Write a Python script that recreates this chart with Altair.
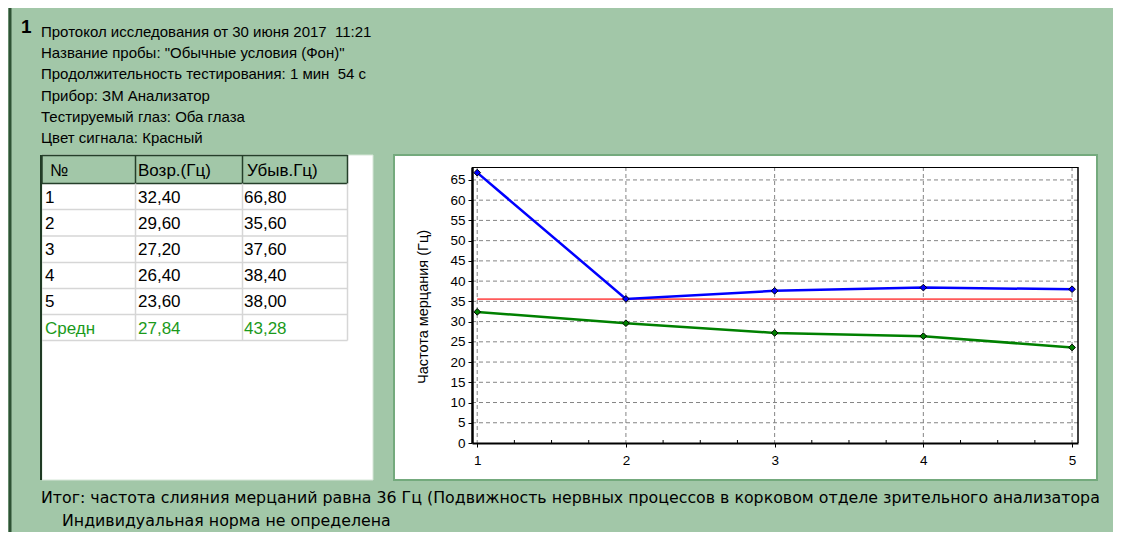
import altair as alt
import pandas as pd

# ---------------- data ----------------
trials = [1, 2, 3, 4, 5]
vozr = [32.40, 29.60, 27.20, 26.40, 23.60]      # Возр.(Гц)
ubyv = [66.80, 35.60, 37.60, 38.40, 38.00]      # Убыв.Гц)
vozr_avg = "27,84"
ubyv_avg = "43,28"
threshold = 35.56                                # частота слияния мерцаний
y_ticks = [0, 5, 10, 15, 20, 25, 30, 35, 40, 45, 50, 55, 60, 65]
x_ticks = [1, 2, 3, 4, 5]
table_headers = ["№", "Возр.(Гц)", "Убыв.Гц)"]
avg_label = "Средн"
header_number = "1"
header_lines = [
    "Протокол исследования от 30 июня 2017\u00a0 11:21",
    "Название пробы: \"Обычные условия (Фон)\"",
    "Продолжительность тестирования: 1 мин\u00a0 54 с",
    "Прибор: ЗМ Анализатор",
    "Тестируемый глаз: Оба глаза",
    "Цвет сигнала: Красный",
]
footer_lines = [
    "Итог: частота слияния мерцаний равна 36 Гц (Подвижность нервных процессов в корковом отделе зрительного анализатора",
    "Индивидуальная норма не определена",
]
y_title = "Частота мерцания (Гц)"

# ---------------- styles ----------------
FONT = "Liberation Sans"
WIDE_FONT = "DejaVu Sans"
BG = "#a2c7a8"
DARK = "#2e5234"
GRID = "#858585"

# page position of plot origin
OX, OY = 472, 167
PW, PH = 606, 276


def px(x):
    return x - OX


def py(y):
    return y - OY


one = pd.DataFrame({"k": [0]})


def rect(x1, y1, x2, y2, fill, stroke=None, sw=0):
    kw = dict(fill=fill)
    if stroke:
        kw["stroke"] = stroke
        kw["strokeWidth"] = sw
    return alt.Chart(one).mark_rect(**kw).encode(
        x=alt.value(px(x1)), x2=alt.value(px(x2)),
        y=alt.value(py(y1)), y2=alt.value(py(y2)))


def rule(x1, y1, x2, y2, color, w=1.0):
    return alt.Chart(one).mark_rule(color=color, strokeWidth=w).encode(
        x=alt.value(px(x1)), x2=alt.value(px(x2)),
        y=alt.value(py(y1)), y2=alt.value(py(y2)))


def text(s, x, y, size=14, color="black", align="left", weight="normal",
         angle=0, lh=None, baseline="alphabetic", font=FONT):
    kw = dict(fontSize=size, color=color, align=align, fontWeight=weight,
              font=font, baseline=baseline, lineBreak="\n")
    if angle:
        kw["angle"] = angle
    if lh:
        kw["lineHeight"] = lh
    return alt.Chart(one).mark_text(**kw).encode(
        x=alt.value(px(x)), y=alt.value(py(y)), text=alt.value(s))


# shared axes (identical in every layer so they merge into one)
AX = alt.Axis(values=x_ticks, format="d", grid=False, title=None, domainColor="black",
              domainWidth=2, tickColor="black", tickSize=4, labelPadding=6,
              labelFont=FONT, labelFontSize=13.5, labelColor="black", zindex=1)
AY = alt.Axis(values=y_ticks, grid=False, title=None, domainColor="black",
              domainWidth=2.5, tickColor="black", tickSize=4, labelPadding=3,
              labelFont=FONT, labelFontSize=13.5, labelColor="black", zindex=1)

layers = []

# left dark border of the window
layers.append(rule(10, 8, 10, 540, DARK, 3))

# header text
layers.append(text(header_number, 21, 33, size=19, weight="bold"))
layers.append(text("\n".join(header_lines), 41, 37, size=15, lh=21.2))

# ---------------- table panel ----------------
TX0, TX1, TY0, TY1 = 42, 373, 155, 480
layers.append(rect(TX0, TY0, TX1, TY1, "white", "#d5e6d7", 1))
layers.append(rule(41, TY0, 41, TY1, "#1f3a24", 2))
col_x = [42, 135.5, 242.5, 347.5]
row_y = [183.5, 209.5, 236, 262.5, 288.5, 314.5, 340.5]
# header row
layers.append(rect(col_x[0], TY0, col_x[-1], row_y[0], BG))
for cx in col_x:
    layers.append(rule(cx, TY0, cx, row_y[0], "#253f2a", 1.5))
layers.append(rule(col_x[0], TY0 + 0.5, col_x[-1], TY0 + 0.5, "#253f2a", 1.5))
layers.append(rule(col_x[0], row_y[0], col_x[-1], row_y[0], "#253f2a", 1.5))
# body grid
for ry in row_y[1:]:
    layers.append(rule(col_x[0], ry, col_x[-1], ry, "#d6d6d6", 1.5))
for cx in col_x[1:]:
    layers.append(rule(cx, row_y[0], cx, row_y[-1], "#d6d6d6", 1.5))
TFS = 17
text_x = [45, 138, 244]
header_tx = [50, 138, 247]
for s, tx in zip(table_headers, header_tx):
    layers.append(text(s, tx, 175.5, size=TFS))
fmt = lambda v: f"{v:.2f}".replace(".", ",")
row_h = 26.2
first_base = (row_y[0] + row_y[1]) / 2 + 6
layers.append(text("\n".join(str(t) for t in trials), text_x[0], first_base, size=TFS, lh=row_h))
layers.append(text("\n".join(fmt(v) for v in vozr), text_x[1], first_base, size=TFS, lh=row_h))
layers.append(text("\n".join(fmt(v) for v in ubyv), text_x[2], first_base, size=TFS, lh=row_h))
avg_base = first_base + row_h * len(trials)
green_txt = "#1b9a1b"
layers.append(text(avg_label, text_x[0], avg_base, size=TFS, color=green_txt))
layers.append(text(vozr_avg, text_x[1], avg_base, size=TFS, color=green_txt))
layers.append(text(ubyv_avg, text_x[2], avg_base, size=TFS, color=green_txt))

# ---------------- chart panel ----------------
layers.append(rect(394, 155, 1097, 480, "white", "#74aa7d", 2))
layers.append(text(y_title, 424, 307, size=14.5, angle=270, align="center", baseline="middle"))

xs = alt.Scale(domain=[0.965, 5.04], nice=False, zero=False)
ys = alt.Scale(domain=[0, 68.2], nice=False, zero=True)

hg = pd.DataFrame({"v": y_ticks[1:]})
layers.append(alt.Chart(hg).mark_rule(color=GRID, strokeDash=[4, 3], strokeWidth=1).encode(
    y=alt.Y("v:Q", scale=ys, axis=AY), x=alt.value(0), x2=alt.value(PW)))
vg = pd.DataFrame({"v": x_ticks})
layers.append(alt.Chart(vg).mark_rule(color=GRID, strokeDash=[4, 3], strokeWidth=1).encode(
    x=alt.X("v:Q", scale=xs, axis=AX), y=alt.value(0), y2=alt.value(PH + 4)))
minor = pd.DataFrame({"v": [a + f for a in x_ticks[:-1] for f in (0.25, 0.5, 0.75)]})
layers.append(alt.Chart(minor).mark_rule(color="black", strokeWidth=1).encode(
    x=alt.X("v:Q", scale=xs, axis=AX), y=alt.value(PH - 3), y2=alt.value(PH)))

# threshold line
thr = pd.DataFrame({"x": [trials[0], trials[-1]], "y": [threshold, threshold]})
layers.append(alt.Chart(thr).mark_line(color="#ff5a5a", strokeWidth=1.6).encode(
    x=alt.X("x:Q", scale=xs, axis=AX), y=alt.Y("y:Q", scale=ys, axis=AY)))

df = pd.DataFrame({
    "trial": trials * 2,
    "hz": vozr + ubyv,
    "series": ["Возр."] * len(trials) + ["Убыв."] * len(trials),
})
cscale = alt.Scale(domain=["Возр.", "Убыв."], range=["#008000", "#0000ff"])
layers.append(alt.Chart(df).mark_line(strokeWidth=2.5).encode(
    x=alt.X("trial:Q", scale=xs, axis=AX),
    y=alt.Y("hz:Q", scale=ys, axis=AY),
    color=alt.Color("series:N", scale=cscale, legend=None),
))
layers.append(alt.Chart(df).mark_point(shape="diamond", filled=True, size=45,
                                       stroke="black", strokeWidth=1, opacity=1).encode(
    x=alt.X("trial:Q", scale=xs, axis=AX),
    y=alt.Y("hz:Q", scale=ys, axis=AY),
    fill=alt.Fill("series:N", scale=cscale, legend=None),
))
# frame top / right
layers.append(rule(OX, OY + 0.5, OX + PW, OY + 0.5, "black", 1))
layers.append(rule(OX + PW, OY, OX + PW, OY + PH, "black", 1.5))

# footer
layers.append(text(footer_lines[0], 41, 503, size=15.8, font=WIDE_FONT))
layers.append(text(footer_lines[1], 62, 526, size=15.8, font=WIDE_FONT))

TOTAL_W, TOTAL_H = 1105, 524
chart = alt.layer(*layers).properties(
    width=PW, height=PH,
    background=BG,
    padding={"left": OX - 8, "top": OY - 8,
             "right": TOTAL_W - (OX - 8) - PW, "bottom": TOTAL_H - (OY - 8) - PH},
    autosize=alt.AutoSizeParams(type="none"),
).configure_view(strokeWidth=0)

chart.save("out.html", embed_options={"renderer": "svg", "actions": False})
